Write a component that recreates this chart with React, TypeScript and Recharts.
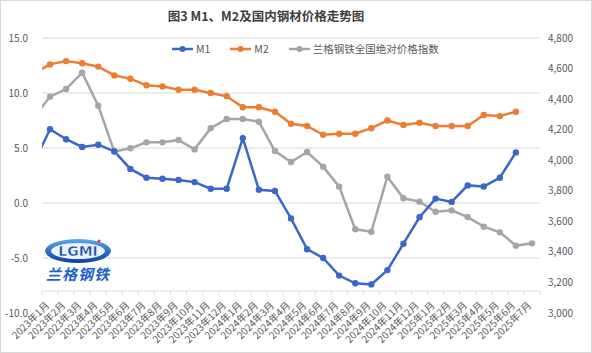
import React from "react";
import { LineChart, Line, XAxis, YAxis, CartesianGrid, Legend, ReferenceLine } from "recharts";

// first month sits just outside the plot (the lines run in from the left edge)
const months = [
  "2022年12月",
  "2023年1月", "2023年2月", "2023年3月", "2023年4月", "2023年5月", "2023年6月",
  "2023年7月", "2023年8月", "2023年9月", "2023年10月", "2023年11月", "2023年12月",
  "2024年1月", "2024年2月", "2024年3月", "2024年4月", "2024年5月", "2024年6月",
  "2024年7月", "2024年8月", "2024年9月", "2024年10月", "2024年11月", "2024年12月",
  "2025年1月", "2025年2月", "2025年3月", "2025年4月", "2025年5月", "2025年6月", "2025年7月",
];
const m1 = [
  3.7,
  6.7, 5.8, 5.1, 5.3, 4.7, 3.1, 2.3, 2.2, 2.1, 1.9, 1.3, 1.3,
  5.9, 1.2, 1.1, -1.4, -4.2, -5.0, -6.6, -7.3, -7.4, -6.1, -3.7, -1.3,
  0.4, 0.1, 1.6, 1.5, 2.3, 4.6,
];
const m2 = [
  11.8,
  12.6, 12.9, 12.7, 12.4, 11.6, 11.3, 10.7, 10.6, 10.3, 10.3, 10.0, 9.7,
  8.7, 8.7, 8.3, 7.2, 7.0, 6.2, 6.3, 6.3, 6.8, 7.5, 7.1, 7.3,
  7.0, 7.0, 7.0, 8.0, 7.9, 8.3,
];
const priceIndex = [
  4280,
  4416, 4466, 4573, 4357, 4056, 4078, 4117, 4117, 4132, 4071, 4209, 4270,
  4270, 4252, 4060, 3988, 4054, 3958, 3827, 3548, 3532, 3892, 3751, 3729,
  3663, 3672, 3628, 3565, 3528, 3441, 3456,
];
const leftTicks = [-10, -5, 0, 5, 10, 15];
const rightTicks = [3000, 3200, 3400, 3600, 3800, 4000, 4200, 4400, 4600, 4800];
const xCross = -8; // horizontal axis crosses the left axis here

const BLUE = "#3A68C6";
const ORANGE = "#EE7D31";
const GRAY = "#A5A5A5";
const TEXT = "#595959";
const GRID = "#D9D9D9";
const FONT = '"Noto Sans CJK SC", "Noto Sans", sans-serif';

const W = 592;
const H = 353;
const PLOT_TOP = 38;
const X_AXIS_H = 40;
const LEFT_W = 42;
const RIGHT_W = 52;
const PLOT_H = H - PLOT_TOP - X_AXIS_H;
const PLOT_W = W - LEFT_W - RIGHT_W;
const AXIS_SHIFT = ((xCross - leftTicks[0]) / (leftTicks[leftTicks.length - 1] - leftTicks[0])) * PLOT_H;
const HALF_BAND = PLOT_W / (months.length - 1) / 2;

const data = months.map((label, i) => ({
  i,
  label,
  m1: m1[i] ?? null,
  m2: m2[i] ?? null,
  price: priceIndex[i] ?? null,
}));
const xTicks = months.map((_, i) => i).slice(1);

function MonthTick(props: any) {
  const { x, y, payload } = props;
  const axisY = y - AXIS_SHIFT;
  const isLast = payload.value === months.length - 1;
  const ty = axisY + 15;
  return (
    <g>
      <line x1={x - HALF_BAND} x2={x - HALF_BAND} y1={axisY} y2={axisY + 4} stroke={GRID} />
      {isLast && <line x1={x + HALF_BAND} x2={x + HALF_BAND} y1={axisY} y2={axisY + 4} stroke={GRID} />}
      <text
        x={x}
        y={ty}
        transform={`rotate(-45 ${x} ${ty})`}
        textAnchor="end"
        fontSize={10}
        fill={TEXT}
        fontFamily={FONT}
      >
        {months[payload.value]}
      </text>
    </g>
  );
}

const legendItems = [
  { name: "M1", color: BLUE },
  { name: "M2", color: ORANGE },
  { name: "兰格钢铁全国绝对价格指数", color: GRAY },
];

function LegendContent() {
  return (
    <div style={{ display: "flex", alignItems: "center", fontFamily: FONT, fontSize: 10.5, color: TEXT }}>
      {legendItems.map((it) => (
        <div key={it.name} style={{ display: "flex", alignItems: "center", marginRight: 20 }}>
          <svg width={21} height={8} style={{ marginRight: 3 }}>
            <line x1={0} x2={21} y1={4} y2={4} stroke={it.color} strokeWidth={2.5} />
            <circle cx={10.5} cy={4} r={3} fill={it.color} />
          </svg>
          <span>{it.name}</span>
        </div>
      ))}
    </div>
  );
}

function Logo() {
  return (
    <svg width={70} height={46} style={{ position: "absolute", left: 44, top: 238 }}>
      <defs>
        <linearGradient id="logoRing" x1="0" y1="0" x2="0" y2="1">
          <stop offset="0%" stopColor="#5aa8f0" />
          <stop offset="100%" stopColor="#0b3f9c" />
        </linearGradient>
      </defs>
      <ellipse cx={34} cy={13} rx={33} ry={12} fill="url(#logoRing)" />
      <ellipse cx={34} cy={13} rx={27} ry={8} fill="#eaf3ff" />
      <text x={34} y={18} textAnchor="middle" fontSize={14} fontWeight="bold" fill="#1a4fa8"
        fontFamily='"DejaVu Sans", sans-serif' stroke="#ffffff" strokeWidth={0.4}>
        LGMI
      </text>
      <circle cx={55} cy={3} r={1.5} fill="#e53935" />
      <text x={34} y={42} textAnchor="middle" fontSize={15} fontWeight="bold" fontStyle="italic"
        fill="#1f63c8" fontFamily={FONT} letterSpacing={1}>
        兰格钢铁
      </text>
    </svg>
  );
}

export default function App() {
  return (
    <div style={{ position: "absolute", left: 0, top: 0, width: W, height: H, background: "#fff" }}>
      <div
        style={{
          position: "absolute",
          left: 0,
          right: 0,
          top: 6,
          textAlign: "center",
          paddingRight: 60,
          fontFamily: FONT,
          fontWeight: "bold",
          fontSize: 12.5,
          color: "#404040",
        }}
      >
        图3 M1、M2及国内钢材价格走势图
      </div>
      <LineChart
        width={W}
        height={H}
        data={data}
        margin={{ top: PLOT_TOP, right: 0, bottom: 0, left: 0 }}
        style={{ fontFamily: FONT }}
      >
        <CartesianGrid vertical={false} stroke={GRID} horizontalValues={[-5, 0, 5, 10, 15]} />
        <XAxis
          dataKey="i"
          type="number"
          domain={[0.5, months.length - 0.5]}
          allowDataOverflow
          ticks={xTicks}
          interval={0}
          height={X_AXIS_H}
          axisLine={false}
          tickLine={false}
          tickSize={0}
          tickMargin={0}
          tick={<MonthTick />}
        />
        <YAxis
          domain={[leftTicks[0], leftTicks[leftTicks.length - 1]]}
          ticks={leftTicks}
          width={LEFT_W}
          axisLine={false}
          tickLine={false}
          tickSize={0}
          tickMargin={14}
          tick={{ fontSize: 10, fill: TEXT }}
          tickFormatter={(v: number) => v.toFixed(1)}
        />
        <YAxis
          yAxisId="right"
          orientation="right"
          domain={[rightTicks[0], rightTicks[rightTicks.length - 1]]}
          ticks={rightTicks}
          width={RIGHT_W}
          axisLine={false}
          tickLine={false}
          tickSize={0}
          tickMargin={8}
          tick={{ fontSize: 10, fill: TEXT }}
          tickFormatter={(v: number) => v.toLocaleString("en-US")}
        />
        <ReferenceLine y={xCross} stroke={GRID} />
        <Legend
          verticalAlign="middle"
          align="center"
          content={<LegendContent />}
          wrapperStyle={{ top: 41, left: 172, width: "auto" }}
        />
        <Line
          dataKey="price"
          yAxisId="right"
          name="兰格钢铁全国绝对价格指数"
          stroke={GRAY}
          strokeWidth={2.5}
          dot={{ r: 3.2, fill: GRAY, stroke: GRAY, strokeWidth: 0 }}
          isAnimationActive={false}
        />
        <Line
          dataKey="m2"
          name="M2"
          stroke={ORANGE}
          strokeWidth={2.5}
          dot={{ r: 3.2, fill: ORANGE, stroke: ORANGE, strokeWidth: 0 }}
          isAnimationActive={false}
        />
        <Line
          dataKey="m1"
          name="M1"
          stroke={BLUE}
          strokeWidth={2.5}
          dot={{ r: 3.2, fill: BLUE, stroke: BLUE, strokeWidth: 0 }}
          isAnimationActive={false}
        />
      </LineChart>
      <Logo />
      <div
        style={{
          position: "absolute",
          inset: 0,
          border: "1px solid #D9D9D9",
          pointerEvents: "none",
        }}
      />
    </div>
  );
}
